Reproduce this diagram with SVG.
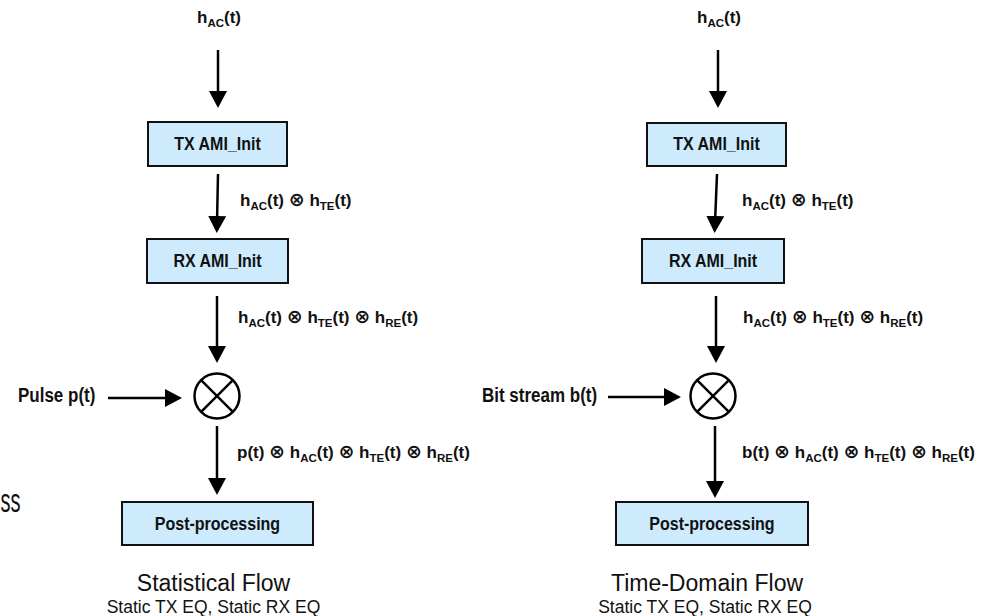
<svg xmlns="http://www.w3.org/2000/svg" width="991" height="616" viewBox="0 0 991 616">
<style>
.bg{fill:#ffffff}
.box{fill:#cdebfc;stroke:#111;stroke-width:2}
.bt{font-family:"Liberation Sans",Arial,sans-serif;font-weight:bold;font-size:16px;fill:#111;text-anchor:middle}
.lb{font-family:"Liberation Sans",Arial,sans-serif;font-weight:bold;font-size:17px;fill:#111}
.in{font-family:"Liberation Sans",Arial,sans-serif;font-weight:bold;font-size:17px;fill:#111}
.top{font-family:"Liberation Sans",Arial,sans-serif;font-weight:bold;font-size:17px;fill:#111;text-anchor:middle}
.ttl{font-family:"Liberation Sans",Arial,sans-serif;font-size:23px;fill:#111;text-anchor:middle}
.sub{font-family:"Liberation Sans",Arial,sans-serif;font-size:17.5px;fill:#111;text-anchor:middle}
.big{font-family:"Liberation Sans",Arial,sans-serif;font-size:26px;fill:#111}
.edge{stroke:#000;stroke-width:2.5;fill:none;marker-end:url(#ah)}
.mix{fill:#fff;stroke:#000;stroke-width:2.5}
.mixl{stroke:#000;stroke-width:2.5}
.s{font-size:11.5px}
.o{font-family:"DejaVu Sans",sans-serif;font-size:19px}
</style>
<defs>
<marker id="ah" markerUnits="userSpaceOnUse" markerWidth="18" markerHeight="18" refX="7" refY="9" orient="auto">
<path d="M0,0 L17,9 L0,18 z" fill="#000"/>
</marker>
</defs>
<rect class="bg" x="0" y="0" width="991" height="616"/>

<g transform="translate(0.5 512) scale(1 1.3)"><text class="big" x="0" y="0" textLength="20" lengthAdjust="spacingAndGlyphs">ss</text></g>

<g id="connectors">
<line class="edge" x1="218" y1="50" x2="218" y2="98"/>
<line class="edge" x1="218" y1="174" x2="217" y2="223"/>
<line class="edge" x1="217" y1="296" x2="217" y2="353"/>
<line class="edge" x1="108" y1="398" x2="172" y2="398"/>
<line class="edge" x1="217" y1="426" x2="217" y2="485"/>

<line class="edge" x1="718" y1="50" x2="718" y2="98"/>
<line class="edge" x1="717" y1="174" x2="715" y2="223"/>
<line class="edge" x1="716" y1="296" x2="716" y2="353"/>
<line class="edge" x1="608" y1="397" x2="671" y2="397"/>
<line class="edge" x1="715" y1="426" x2="715" y2="488"/>
</g>

<g id="edge-labels">
<text class="lb" x="240" y="206">h<tspan class="s" dy="4">AC</tspan><tspan dy="-4">(t) </tspan><tspan class="o">⊗</tspan> h<tspan class="s" dy="4">TE</tspan><tspan dy="-4">(t)</tspan></text>
<text class="lb" x="238" y="323">h<tspan class="s" dy="4">AC</tspan><tspan dy="-4">(t) </tspan><tspan class="o">⊗</tspan> h<tspan class="s" dy="4">TE</tspan><tspan dy="-4">(t) </tspan><tspan class="o">⊗</tspan> h<tspan class="s" dy="4">RE</tspan><tspan dy="-4">(t)</tspan></text>
<text class="lb" x="237" y="458">p(t) <tspan class="o">⊗</tspan> h<tspan class="s" dy="4">AC</tspan><tspan dy="-4">(t) </tspan><tspan class="o">⊗</tspan> h<tspan class="s" dy="4">TE</tspan><tspan dy="-4">(t) </tspan><tspan class="o">⊗</tspan> h<tspan class="s" dy="4">RE</tspan><tspan dy="-4">(t)</tspan></text>

<text class="lb" x="742" y="206">h<tspan class="s" dy="4">AC</tspan><tspan dy="-4">(t) </tspan><tspan class="o">⊗</tspan> h<tspan class="s" dy="4">TE</tspan><tspan dy="-4">(t)</tspan></text>
<text class="lb" x="743" y="323">h<tspan class="s" dy="4">AC</tspan><tspan dy="-4">(t) </tspan><tspan class="o">⊗</tspan> h<tspan class="s" dy="4">TE</tspan><tspan dy="-4">(t) </tspan><tspan class="o">⊗</tspan> h<tspan class="s" dy="4">RE</tspan><tspan dy="-4">(t)</tspan></text>
<text class="lb" x="742" y="458">b(t) <tspan class="o">⊗</tspan> h<tspan class="s" dy="4">AC</tspan><tspan dy="-4">(t) </tspan><tspan class="o">⊗</tspan> h<tspan class="s" dy="4">TE</tspan><tspan dy="-4">(t) </tspan><tspan class="o">⊗</tspan> h<tspan class="s" dy="4">RE</tspan><tspan dy="-4">(t)</tspan></text>
</g>

<g id="stat-input">
<text class="top" x="219" y="23">h<tspan class="s" dy="4">AC</tspan><tspan dy="-4">(t)</tspan></text>
</g>
<g id="stat-tx">
<rect class="box" x="148" y="122" width="139" height="44"/>
<g transform="translate(217.5 150) scale(1 1.2)"><text class="bt" x="0" y="0">TX AMI_Init</text></g>
</g>
<g id="stat-rx">
<rect class="box" x="147" y="239" width="141" height="44"/>
<g transform="translate(217.5 267) scale(1 1.2)"><text class="bt" x="0" y="0">RX AMI_Init</text></g>
</g>
<g id="stat-pulse">
<g transform="translate(18 401.5) scale(1 1.15)"><text class="in" x="0" y="0">Pulse p(t)</text></g>
</g>
<g id="stat-mix">
<circle class="mix" cx="217" cy="396" r="22.5"/>
<line class="mixl" x1="201.1" y1="380.1" x2="232.9" y2="411.9"/>
<line class="mixl" x1="232.9" y1="380.1" x2="201.1" y2="411.9"/>
</g>
<g id="stat-post">
<rect class="box" x="122" y="502" width="191" height="43"/>
<g transform="translate(217.5 529.5) scale(1 1.2)"><text class="bt" x="0" y="0">Post-processing</text></g>
</g>
<g id="stat-title">
<text class="ttl" x="213.5" y="591">Statistical Flow</text>
<text class="sub" x="213.5" y="613">Static TX EQ, Static RX EQ</text>
</g>

<g id="td-input">
<text class="top" x="719" y="23">h<tspan class="s" dy="4">AC</tspan><tspan dy="-4">(t)</tspan></text>
</g>
<g id="td-tx">
<rect class="box" x="647" y="123" width="139" height="43"/>
<g transform="translate(716.5 150) scale(1 1.2)"><text class="bt" x="0" y="0">TX AMI_Init</text></g>
</g>
<g id="td-rx">
<rect class="box" x="642" y="239" width="142" height="44"/>
<g transform="translate(713 267) scale(1 1.2)"><text class="bt" x="0" y="0">RX AMI_Init</text></g>
</g>
<g id="td-bits">
<g transform="translate(482 401.5) scale(1 1.15)"><text class="in" x="0" y="0">Bit stream b(t)</text></g>
</g>
<g id="td-mix">
<circle class="mix" cx="713" cy="396" r="22.5"/>
<line class="mixl" x1="697.1" y1="380.1" x2="728.9" y2="411.9"/>
<line class="mixl" x1="728.9" y1="380.1" x2="697.1" y2="411.9"/>
</g>
<g id="td-post">
<rect class="box" x="616" y="502" width="192" height="43"/>
<g transform="translate(712 529.5) scale(1 1.2)"><text class="bt" x="0" y="0">Post-processing</text></g>
</g>
<g id="td-title">
<text class="ttl" x="707" y="591">Time-Domain Flow</text>
<text class="sub" x="705" y="613">Static TX EQ, Static RX EQ</text>
</g>
</svg>
